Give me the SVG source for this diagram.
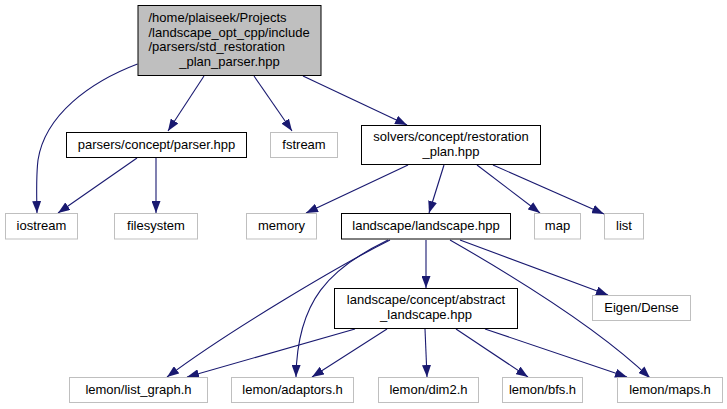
<svg xmlns="http://www.w3.org/2000/svg" width="727" height="409" viewBox="0 0 727 409">
<style>
.n rect{fill:#ffffff;stroke:#000000;stroke-width:1}
.g rect{fill:#ffffff;stroke:#bfbfbf;stroke-width:1}
.root rect{fill:#bfbfbf;stroke:#000000;stroke-width:1}
text{font-family:"Liberation Sans",Arial,sans-serif;font-size:13px;fill:#000000}
.c{text-anchor:middle}
#edges path{fill:none;stroke:#191970;stroke-width:1.1;marker-end:url(#arr)}
</style>
<defs>
<marker id="arr" markerUnits="userSpaceOnUse" markerWidth="12" markerHeight="9" viewBox="0 0 12 9" refX="12" refY="4.5" orient="auto">
<path d="M0,0 L12,4.5 L0,9 z" fill="#191970"/>
</marker>
</defs>
<rect width="727" height="409" fill="#ffffff"/>
<g id="edges">
<path d="M137.5,64 C90,82 45,115 38,160 C36,177 36.5,195 37,213"/>
<path d="M204,76 L168,131"/>
<path d="M254,76 L292,131"/>
<path d="M303,76 L407,125"/>
<path d="M137,158 L58,213"/>
<path d="M156,158 L156,213"/>
<path d="M408,165 L306,213"/>
<path d="M444,165 L429,213"/>
<path d="M477,165 L540,213"/>
<path d="M493,165 L604,214"/>
<path d="M426,240 L426,288"/>
<path d="M390,240 C340,265 230,330 167,377"/>
<path d="M388,240 C330,268 297,300 296,377"/>
<path d="M460,240 L608,295"/>
<path d="M450,240 C520,280 600,330 650,378"/>
<path d="M355,329 L187,377"/>
<path d="M387,329 L312,377"/>
<path d="M425,329 L427,377"/>
<path d="M456,329 L528,377"/>
<path d="M485,329 L627,377"/>
</g>
<g id="root" class="root">
<rect x="138" y="5.5" width="183" height="70"/>
<text x="148.5" y="22">/home/plaiseek/Projects</text>
<text x="148.5" y="36.5">/landscape_opt_cpp/include</text>
<text x="148.5" y="51">/parsers/std_restoration</text>
<text class="c" x="229.5" y="65.5">_plan_parser.hpp</text>
</g>
<g id="parser" class="n">
<rect x="66.5" y="132.5" width="180" height="25"/>
<text class="c" x="156.5" y="148.5">parsers/concept/parser.hpp</text>
</g>
<g id="fstream" class="g">
<rect x="270.5" y="132.5" width="67" height="25"/>
<text class="c" x="304" y="148.5">fstream</text>
</g>
<g id="solvers" class="n">
<rect x="361.5" y="125.5" width="179" height="39"/>
<text class="c" x="451" y="141">solvers/concept/restoration</text>
<text class="c" x="451" y="155.5">_plan.hpp</text>
</g>
<g id="iostream" class="g">
<rect x="5.5" y="213.5" width="72" height="25.5"/>
<text class="c" x="41.5" y="230">iostream</text>
</g>
<g id="filesystem" class="g">
<rect x="114.5" y="213.5" width="83" height="25.5"/>
<text class="c" x="156" y="230">filesystem</text>
</g>
<g id="memory" class="g">
<rect x="246.5" y="213.5" width="70" height="25.5"/>
<text class="c" x="281.5" y="230">memory</text>
</g>
<g id="landscape" class="n">
<rect x="341.5" y="213.5" width="169" height="25.5"/>
<text class="c" x="426" y="230">landscape/landscape.hpp</text>
</g>
<g id="map" class="g">
<rect x="534.5" y="213.5" width="46" height="25.5"/>
<text class="c" x="557.5" y="230">map</text>
</g>
<g id="list" class="g">
<rect x="604.5" y="213.5" width="39" height="25.5"/>
<text class="c" x="624" y="230">list</text>
</g>
<g id="abstract" class="n">
<rect x="334.5" y="288.5" width="183" height="40"/>
<text class="c" x="426" y="304">landscape/concept/abstract</text>
<text class="c" x="426" y="318.5">_landscape.hpp</text>
</g>
<g id="eigen" class="g">
<rect x="592.5" y="295.5" width="98" height="25"/>
<text class="c" x="641.5" y="312">Eigen/Dense</text>
</g>
<g id="list_graph" class="g">
<rect x="69.5" y="377.5" width="138" height="25"/>
<text class="c" x="138.5" y="394">lemon/list_graph.h</text>
</g>
<g id="adaptors" class="g">
<rect x="231.5" y="377.5" width="122" height="25"/>
<text class="c" x="292.5" y="394">lemon/adaptors.h</text>
</g>
<g id="dim2" class="g">
<rect x="378.5" y="377.5" width="100" height="25"/>
<text class="c" x="428.5" y="394">lemon/dim2.h</text>
</g>
<g id="bfs" class="g">
<rect x="502.5" y="377.5" width="80" height="25"/>
<text class="c" x="542.5" y="394">lemon/bfs.h</text>
</g>
<g id="maps" class="g">
<rect x="617.5" y="377.5" width="105" height="25"/>
<text class="c" x="670" y="394">lemon/maps.h</text>
</g>
</svg>
